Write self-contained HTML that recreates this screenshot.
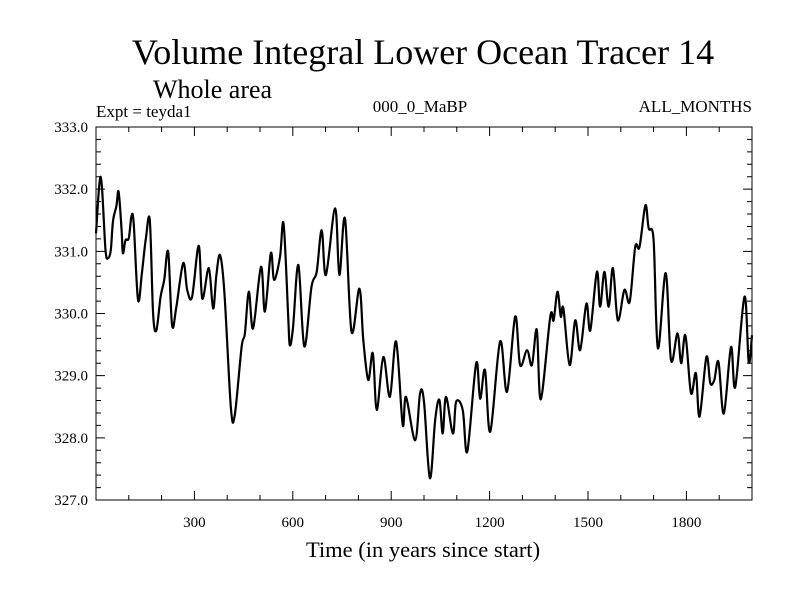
<!DOCTYPE html>
<html><head><meta charset="utf-8"><style>
body{margin:0;background:#fff}
svg{display:block;font-family:"Liberation Serif",serif}
</style></head><body>
<svg id="chart" width="800" height="600">
<text x="423" y="64" font-size="36" text-anchor="middle">Volume Integral Lower Ocean Tracer 14</text>
<text x="153" y="98" font-size="26">Whole area</text>
<text x="96" y="117" font-size="17">Expt = teyda1</text>
<text x="420" y="112" font-size="17" text-anchor="middle">000_0_MaBP</text>
<text x="752" y="112" font-size="17" text-anchor="end">ALL_MONTHS</text>
<text x="423" y="557" font-size="22.5" text-anchor="middle">Time (in years since start)</text>
<g id="axes"></g>
<path id="series" fill="none" stroke="#000" stroke-width="2.2" stroke-linejoin="round"></path>
</svg>
<script>
const years=[0,11,18,29,37,45,52,62,69,78,82,90,100,108,115,128,140,152,164,174,184,197,208,220,232,245,266,278,293,313,324,344,357,367,378,391,411,423,444,454,466,479,503,515,533,543,561,572,586,591,601,617,635,657,673,688,701,729,742,759,779,803,815,830,844,856,876,896,915,935,945,973,988,1000,1018,1034,1047,1057,1067,1088,1098,1118,1132,1159,1171,1186,1202,1232,1253,1278,1293,1314,1329,1344,1356,1385,1395,1407,1417,1425,1444,1461,1476,1495,1507,1527,1537,1550,1563,1576,1591,1611,1627,1644,1657,1675,1685,1700,1713,1737,1753,1773,1784,1797,1814,1829,1840,1861,1873,1885,1898,1914,1936,1949,1977,1990,2000];
const values=[331.29,332.12,332.04,331.02,330.89,331.02,331.50,331.72,331.96,331.34,330.97,331.18,331.21,331.56,331.45,330.22,330.65,331.21,331.50,330.00,329.73,330.27,330.54,330.99,329.81,330.11,330.81,330.38,330.27,331.09,330.24,330.73,330.08,330.62,330.94,330.38,328.50,328.36,329.46,329.68,330.35,329.76,330.75,330.03,330.97,330.54,330.91,331.44,329.95,329.49,329.79,330.78,329.47,330.43,330.67,331.34,330.62,331.69,330.62,331.53,329.71,330.40,329.57,328.93,329.36,328.45,329.30,328.66,329.55,328.21,328.66,327.96,328.72,328.58,327.35,328.29,328.61,328.07,328.66,328.07,328.58,328.45,327.78,329.20,328.63,329.09,328.10,329.55,328.74,329.95,329.17,329.41,329.17,329.74,328.62,329.95,329.89,330.35,329.95,330.08,329.17,329.89,329.41,330.16,329.73,330.67,330.11,330.67,330.11,330.73,329.89,330.38,330.19,331.07,331.07,331.74,331.37,331.18,329.44,330.65,329.25,329.68,329.20,329.65,328.72,329.04,328.34,329.30,328.88,328.93,329.22,328.39,329.46,328.82,330.27,329.22,329.65];
const yTicks=[327.0,328.0,329.0,330.0,331.0,332.0,333.0];
const xTicks=[300,600,900,1200,1500,1800];
const X0=96,X1=752,Y0=500,Y1=127,xMin=0,xMax=2000,yMin=327,yMax=333;
const sx=v=>X0+(v-xMin)/(xMax-xMin)*(X1-X0);
const sy=v=>Y0-(v-yMin)/(yMax-yMin)*(Y0-Y1);
const NS="http://www.w3.org/2000/svg";
const ax=document.getElementById('axes');
function mk(t,a){const e=document.createElementNS(NS,t);for(const k in a)e.setAttribute(k,a[k]);ax.appendChild(e);return e;}
const fr=mk('rect',{x:X0,y:Y1,width:X1-X0,height:Y0-Y1,fill:'none',stroke:'#000','stroke-width':1});


let d='';
for(let v=xMin+100;v<xMax;v+=100){const x=sx(v),L=(v%300===0)?9:5;d+=`M${x},${Y0}v${-L}M${x},${Y1}v${L}`;}
for(let v=yMin+0.2;v<yMax-0.01;v+=0.2){const y=sy(v),maj=Math.abs(v-Math.round(v))<0.01,L=maj?9:5;d+=`M${X0},${y}h${L}M${X1},${y}h${-L}`;}
const tk=mk('path',{d:d,stroke:'#000','stroke-width':1,fill:'none'});


yTicks.forEach(v=>{const t=mk('text',{x:88,y:sy(v)+5,'font-size':15,'text-anchor':'end'});t.textContent=v.toFixed(1);

});
xTicks.forEach(v=>{const t=mk('text',{x:sx(v),y:527,'font-size':15,'text-anchor':'middle'});t.textContent=v;

});
// smooth curve (Catmull-Rom) through data points
const P=years.map((y,i)=>[sx(y),sy(values[i])]);
let p='M'+P[0][0].toFixed(1)+','+P[0][1].toFixed(1);
for(let i=0;i<P.length-1;i++){
  const a=P[Math.max(0,i-1)],b=P[i],c=P[i+1],e=P[Math.min(P.length-1,i+2)];
  const k=0.5/3;
  const c1=[b[0]+(c[0]-a[0])*k,b[1]+(c[1]-a[1])*k];
  const c2=[c[0]-(e[0]-b[0])*k,c[1]-(e[1]-b[1])*k];
  p+=`C${c1[0].toFixed(1)},${c1[1].toFixed(1)} ${c2[0].toFixed(1)},${c2[1].toFixed(1)} ${c[0].toFixed(1)},${c[1].toFixed(1)}`;
}
document.getElementById('series').setAttribute('d',p);
</script>
</body></html>
